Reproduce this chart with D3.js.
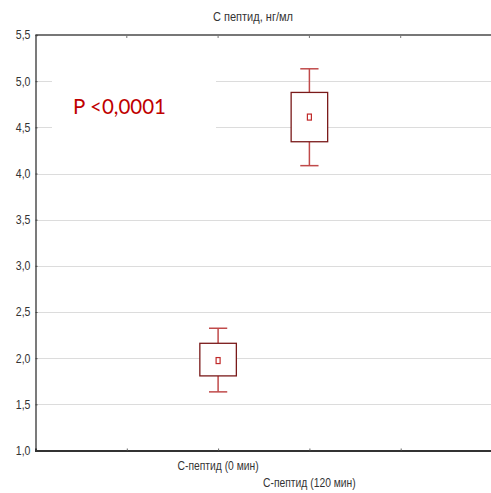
<!DOCTYPE html>
<html>
<head>
<meta charset="utf-8">
<script src="https://cdn.jsdelivr.net/npm/d3@7"></script>
<style>
  html, body { margin: 0; padding: 0; background: #fff; }
  svg { display: block; }
  .narrow { font-family: "Liberation Sans Narrow", "Arial Narrow", "Liberation Sans", Arial, sans-serif; }
</style>
</head>
<body>
<script>
// C-peptide before and after the load test: box = quartile range, whiskers = min/max, square = median
const categories = ["С-пептид (0 мин)", "С-пептид (120 мин)"];
const catPositions = [2, 3];
const whiskerLow = [1.635, 4.085];
const boxLow     = [1.808, 4.344];
const median     = [1.974, 4.611];
const boxHigh    = [2.161, 4.878];
const whiskerHigh= [2.324, 5.134];
const yTicks = [1.0, 1.5, 2.0, 2.5, 3.0, 3.5, 4.0, 4.5, 5.0, 5.5];
const xTicks = [1, 2, 3, 4];
const chartTitle = "С пептид, нг/мл";
const pLabel = "P <0,0001";

const W = 491, H = 493;
const svg = d3.select("body").append("svg").attr("width", W).attr("height", H);

const x = d3.scaleLinear().domain([0, 5]).range([35.5, 492]);
const y = d3.scaleLinear().domain([1.0, 5.5]).range([450.5, 35]);

const fmt = d => d3.format(".1f")(d).replace(".", ",");

// squeeze a text element horizontally around its own anchor point
function condense(sel, k) {
  sel.each(function () {
    const t = d3.select(this);
    const ax = +t.attr("x") || 0;
    t.attr("transform", `translate(${ax},0) scale(${k},1) translate(${-ax},0)`);
  });
}

// horizontal grid
svg.append("g").selectAll("line").data(yTicks.filter(t => t > 1 && t < 5.5)).join("line")
  .attr("x1", x(0)).attr("x2", W)
  .attr("y1", d => Math.round(y(d)) + 0.5).attr("y2", d => Math.round(y(d)) + 0.5)
  .attr("stroke", "#dcdcdc").attr("stroke-width", 1.2);

// top frame line
svg.append("line").attr("x1", x(0)).attr("x2", W).attr("y1", y(5.5)).attr("y2", y(5.5))
  .attr("stroke", "#777").attr("stroke-width", 2);

// left axis
const yAxis = d3.axisLeft(y).tickValues(yTicks).tickFormat(fmt).tickSize(-2).tickPadding(5);
const gy = svg.append("g").attr("transform", `translate(${x(0)},0)`).call(yAxis);
gy.select(".domain").attr("stroke", "#444").attr("stroke-width", 1.4);
gy.selectAll(".tick line").attr("stroke", "#444");
gy.selectAll("text").attr("class", "narrow").attr("font-size", 12).attr("fill", "#333")
  .call(condense, 0.88);

// bottom axis with inward ticks, no default labels
const xAxis = d3.axisBottom(x).tickValues(xTicks).tickSize(-2).tickFormat("");
const gx = svg.append("g").attr("transform", `translate(0,${y(1.0)})`).call(xAxis);
gx.select(".domain").attr("stroke", "#333").attr("stroke-width", 2);
gx.selectAll(".tick line").attr("stroke", "#666");

// top inward ticks
svg.append("g").selectAll("line").data(xTicks).join("line")
  .attr("x1", d => x(d)).attr("x2", d => x(d))
  .attr("y1", y(5.5)).attr("y2", y(5.5) + 3)
  .attr("stroke", "#777");

// staggered category labels
svg.append("g").selectAll("text").data(categories).join("text")
  .attr("class", "narrow")
  .attr("x", (d, i) => x(catPositions[i]))
  .attr("y", (d, i) => 470 + i * 17)
  .attr("text-anchor", "middle")
  .attr("font-size", 12).attr("fill", "#333")
  .text(d => d)
  .call(condense, 0.86);

// title
svg.append("text").attr("class", "narrow")
  .attr("x", 253).attr("y", 21).attr("text-anchor", "middle")
  .attr("font-size", 12).attr("fill", "#333")
  .text(chartTitle)
  .call(condense, 0.92);

// box plots
const bw = 0.4, cw = 0.2;
const boxes = svg.append("g").selectAll("g").data(categories).join("g");
boxes.append("line") // upper whisker
  .attr("x1", (d, i) => x(catPositions[i])).attr("x2", (d, i) => x(catPositions[i]))
  .attr("y1", (d, i) => y(whiskerHigh[i])).attr("y2", (d, i) => y(boxHigh[i]))
  .attr("stroke", "#c04a4a").attr("stroke-width", 1.5);
boxes.append("line") // lower whisker
  .attr("x1", (d, i) => x(catPositions[i])).attr("x2", (d, i) => x(catPositions[i]))
  .attr("y1", (d, i) => y(boxLow[i])).attr("y2", (d, i) => y(whiskerLow[i]))
  .attr("stroke", "#c04a4a").attr("stroke-width", 1.5);
boxes.append("line") // upper cap
  .attr("x1", (d, i) => x(catPositions[i] - cw / 2)).attr("x2", (d, i) => x(catPositions[i] + cw / 2))
  .attr("y1", (d, i) => y(whiskerHigh[i])).attr("y2", (d, i) => y(whiskerHigh[i]))
  .attr("stroke", "#c04a4a").attr("stroke-width", 1.5);
boxes.append("line") // lower cap
  .attr("x1", (d, i) => x(catPositions[i] - cw / 2)).attr("x2", (d, i) => x(catPositions[i] + cw / 2))
  .attr("y1", (d, i) => y(whiskerLow[i])).attr("y2", (d, i) => y(whiskerLow[i]))
  .attr("stroke", "#c04a4a").attr("stroke-width", 1.5);
boxes.append("rect")
  .attr("x", (d, i) => x(catPositions[i] - bw / 2))
  .attr("width", x(bw) - x(0))
  .attr("y", (d, i) => y(boxHigh[i]))
  .attr("height", (d, i) => y(boxLow[i]) - y(boxHigh[i]))
  .attr("fill", "#fff").attr("stroke", "#7a1a1a").attr("stroke-width", 1.3);
boxes.append("rect") // median marker
  .attr("x", (d, i) => x(catPositions[i]) - 2)
  .attr("y", (d, i) => y(median[i]) - 3)
  .attr("width", 4).attr("height", 6)
  .attr("fill", "#fff").attr("stroke", "#c02a2a").attr("stroke-width", 1.2);

// significance note on a white label box
svg.append("rect").attr("x", 52).attr("y", 66).attr("width", 164).attr("height", 82).attr("fill", "#fff");
svg.append("text")
  .attr("x", 73).attr("y", 114)
  .attr("font-family", "Lato, 'Open Sans', sans-serif")
  .attr("font-size", 20.5).attr("fill", "#c00000")
  .text(pLabel);
</script>
</body>
</html>
